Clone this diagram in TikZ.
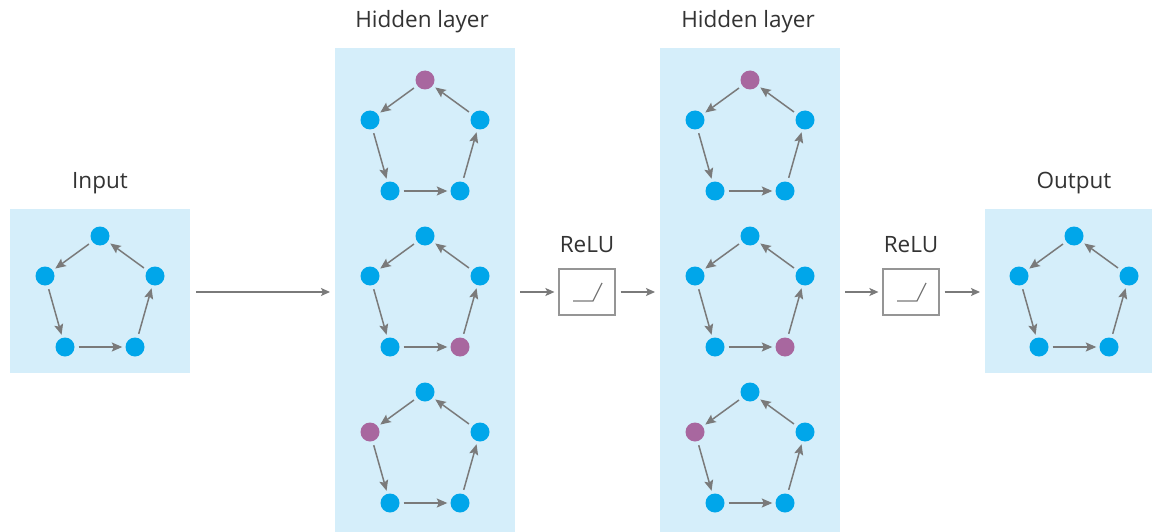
\documentclass[tikz,border=0pt]{standalone}
\usepackage{fontspec}
\setmainfont{Open Sans}
\usetikzlibrary{arrows.meta}
\definecolor{boxbg}{HTML}{D5EEFA}
\definecolor{nodeblue}{HTML}{00A6EA}
\definecolor{nodepurple}{HTML}{A8679F}
\definecolor{arrowgray}{HTML}{7A7A7A}
\definecolor{txtgray}{HTML}{333333}
\tikzset{
  layerbox/.style={fill=boxbg, draw=none},
  dot/.style={circle, fill=nodeblue, draw=none, minimum size=19pt, inner sep=0pt},
  pdot/.style={circle, fill=nodepurple, draw=none, minimum size=19pt, inner sep=0pt},
  edge/.style={draw=arrowgray, line width=1.5pt, -{Stealth[length=10.5pt,width=9pt,inset=2pt]}, shorten <=4pt, shorten >=3pt},
  flow/.style={draw=arrowgray, line width=1.2pt, -{Stealth[length=9pt,width=8pt,inset=2pt]}},
  title/.style={text=txtgray, font=\fontsize{22.5}{26}\selectfont, inner sep=0pt},
  relubox/.style={draw=arrowgray!80, line width=1.2pt, fill=white, minimum width=56pt, minimum height=46pt, inner sep=0pt},
}
% #1 prefix, #2 x of top node, #3 y of top node, #4 style of top, #5 left, #6 right, #7 bl, #8 br
\newcommand\pentagram[8]{%
  \node[#4] (#1t) at (#2,#3) {};
  \node[#5] (#1l) at (#2-55,#3+40) {};
  \node[#6] (#1r) at (#2+55,#3+40) {};
  \node[#7] (#1a) at (#2-35,#3+111) {};
  \node[#8] (#1b) at (#2+35,#3+111) {};
  \draw[edge] (#1t) -- (#1l);
  \draw[edge] (#1l) -- (#1a);
  \draw[edge] (#1a) -- (#1b);
  \draw[edge] (#1b) -- (#1r);
  \draw[edge] (#1r) -- (#1t);
}
\begin{document}
\begin{tikzpicture}[x=1pt,y=-1pt]
\useasboundingbox[fill=white] (0,0) rectangle (1153,532);
% boxes
\fill[layerbox] (10,209) rectangle (190,373);
\fill[layerbox] (335,48) rectangle (515,532);
\fill[layerbox] (660,48) rectangle (840,532);
\fill[layerbox] (985,209) rectangle (1152,373);
% titles
\node[title] (tin) at (100,183) {Input};
\node[title] (th1) at (422,22) {Hidden layer};
\node[title] (th2) at (748,22) {Hidden layer};
\node[title] (tout) at (1074,183) {Output};
\node[title] (tr1) at (587,245) {ReLU};
\node[title] (tr2) at (911,245) {ReLU};
% pentagons
\pentagram{in}{100}{236}{dot}{dot}{dot}{dot}{dot}
\pentagram{ha}{425}{80}{pdot}{dot}{dot}{dot}{dot}
\pentagram{hb}{425}{236}{dot}{dot}{dot}{dot}{pdot}
\pentagram{hc}{425}{392}{dot}{pdot}{dot}{dot}{dot}
\pentagram{ga}{750}{80}{pdot}{dot}{dot}{dot}{dot}
\pentagram{gb}{750}{236}{dot}{dot}{dot}{dot}{pdot}
\pentagram{gc}{750}{392}{dot}{pdot}{dot}{dot}{dot}
\pentagram{out}{1074}{236}{dot}{dot}{dot}{dot}{dot}
% relu boxes
\node[relubox] (r1) at (587,292) {};
\node[relubox] (r2) at (911,292) {};
\draw[arrowgray, line width=1.3pt] ([shift={(-14pt,-9pt)}]r1.center) -- ([shift={(6pt,-9pt)}]r1.center) -- ([shift={(15pt,9pt)}]r1.center);
\draw[arrowgray, line width=1.3pt] ([shift={(-14pt,-9pt)}]r2.center) -- ([shift={(6pt,-9pt)}]r2.center) -- ([shift={(15pt,9pt)}]r2.center);
% flow coordinates
\coordinate (a0) at (196,292);
\coordinate (a1) at (330,292);
\coordinate (b0) at (520,292);
\coordinate (c1) at (655,292);
\coordinate (d0) at (845,292);
\coordinate (e1) at (980,292);
\draw[flow] (a0) -- (a1);
\draw[flow] (b0) -- ([xshift=-4pt]r1.west);
\draw[flow] ([xshift=5pt]r1.east) -- (c1);
\draw[flow] (d0) -- ([xshift=-4pt]r2.west);
\draw[flow] ([xshift=5pt]r2.east) -- (e1);
\end{tikzpicture}
\end{document}
